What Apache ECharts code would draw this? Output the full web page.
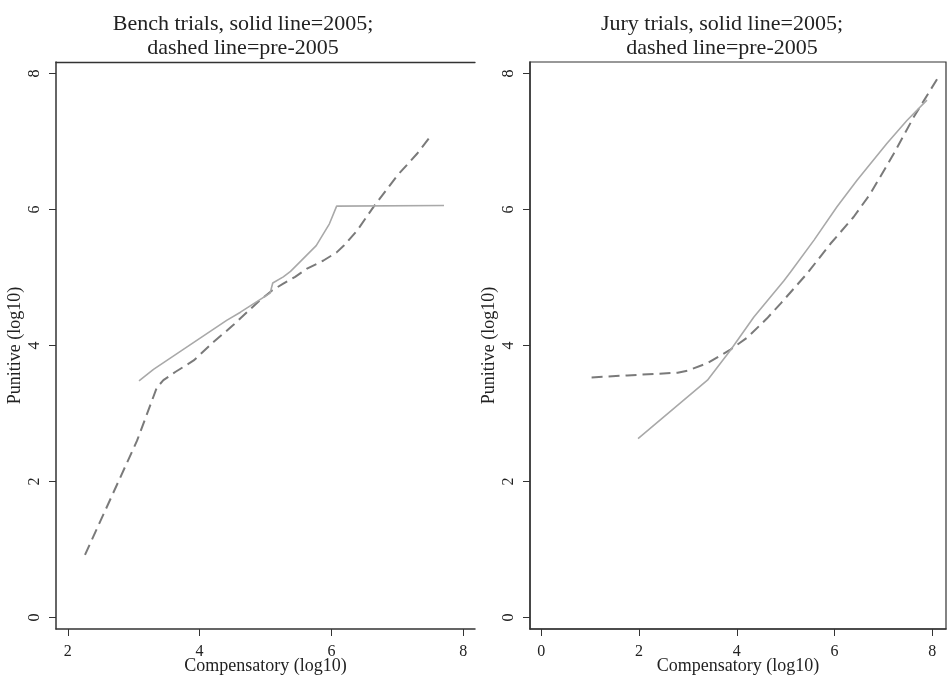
<!DOCTYPE html>
<html>
<head>
<meta charset="utf-8">
<script src="https://cdn.jsdelivr.net/npm/echarts@6/dist/echarts.min.js"></script>
<style>html,body{margin:0;padding:0;background:#fff;}#c{width:950px;height:683px;}</style>
</head>
<body>
<div id="c"></div>
<script>
// ---- data (log10 values) ----
const titles = ['Bench trials, solid line=2005;\ndashed line=pre-2005', 'Jury trials, solid line=2005;\ndashed line=pre-2005'];
const xName = 'Compensatory (log10)';
const yName = 'Punitive (log10)';
const benchXTicks = [2, 4, 6, 8];
const juryXTicks = [0, 2, 4, 6, 8];
const yTicks = [0, 2, 4, 6, 8];

const bench2005X = [3.08, 3.30, 4.41, 4.62, 5.07, 5.11, 5.27, 5.38, 5.77, 5.97, 6.08, 7.71];
const bench2005Y = [3.48, 3.65, 4.37, 4.49, 4.77, 4.92, 5.01, 5.09, 5.47, 5.79, 6.05, 6.06];
const benchPreX = [2.26, 3.05, 3.35, 3.45, 3.63, 3.91, 4.21, 4.51, 4.62, 4.92, 5.10, 5.27, 5.45, 5.63, 5.88, 6.08, 6.19, 6.39, 6.64, 7.00, 7.30, 7.53];
const benchPreY = [0.92, 2.60, 3.38, 3.49, 3.61, 3.78, 4.05, 4.30, 4.40, 4.67, 4.81, 4.91, 5.01, 5.13, 5.25, 5.37, 5.47, 5.69, 6.04, 6.50, 6.82, 7.11];

const jury2005X = [1.98, 3.40, 3.87, 4.35, 4.96, 5.10, 5.58, 6.05, 6.46, 7.07, 7.48, 7.89];
const jury2005Y = [2.63, 3.49, 3.93, 4.42, 4.95, 5.08, 5.55, 6.04, 6.43, 6.97, 7.31, 7.61];
const juryPreX = [1.03, 1.76, 2.79, 2.99, 3.40, 3.87, 4.22, 4.62, 4.90, 5.44, 5.92, 6.39, 6.73, 7.21, 7.62, 8.10];
const juryPreY = [3.53, 3.56, 3.60, 3.63, 3.74, 3.94, 4.12, 4.40, 4.62, 5.06, 5.50, 5.89, 6.23, 6.82, 7.36, 7.92];

// ---- build ----
const pairs = (xs, ys) => xs.map((x, i) => [x, ys[i]]);
const FONT = "'Liberation Serif', 'Times New Roman', serif";
const AX = '#333';
const TXT = '#222';

function xAxis(idx, min, max, ticks) {
  return {
    type: 'value', gridIndex: idx, min: min, max: max,
    name: xName, nameLocation: 'middle', nameGap: 28, nameMoveOverlap: false,
    nameTextStyle: { fontFamily: FONT, fontSize: 18, color: TXT },
    axisLine: { show: true, onZero: false, lineStyle: { color: AX, width: 1.5 } },
    axisTick: { show: true, length: 7, customValues: ticks, lineStyle: { color: AX, width: 1 } },
    axisLabel: { customValues: ticks, margin: 15, fontFamily: FONT, fontSize: 16, color: TXT },
    splitLine: { show: false }
  };
}
function topLine(idx, min, max) {
  return {
    type: 'value', gridIndex: idx, min: min, max: max, position: 'top',
    axisLine: { show: true, onZero: false, lineStyle: { color: AX, width: 1.3 } },
    axisTick: { show: false }, axisLabel: { show: false }, splitLine: { show: false }
  };
}
function yAxis(idx) {
  return {
    type: 'value', gridIndex: idx, min: -0.17, max: 8.17,
    name: yName, nameLocation: 'middle', nameGap: 32, nameRotate: 90, nameMoveOverlap: false,
    nameTextStyle: { fontFamily: FONT, fontSize: 18, color: TXT },
    axisLine: { show: true, onZero: false, lineStyle: { color: AX, width: 1.5 } },
    axisTick: { show: true, length: 7, customValues: yTicks, lineStyle: { color: AX, width: 1 } },
    axisLabel: { customValues: yTicks, rotate: 90, margin: 13, fontFamily: FONT, fontSize: 16, color: TXT },
    splitLine: { show: false }
  };
}
function solid(idx, data) {
  return { type: 'line', xAxisIndex: idx, yAxisIndex: idx, data: data, showSymbol: false, animation: false,
    lineStyle: { color: '#a9a9a9', width: 1.6 }, z: 3 };
}
function dashed(idx, data) {
  return { type: 'line', xAxisIndex: idx, yAxisIndex: idx, data: data, showSymbol: false, animation: false,
    lineStyle: { color: '#7a7a7a', width: 2, type: [11, 6] }, z: 2 };
}

const chart = echarts.init(document.getElementById('c'), null, { renderer: 'canvas' });
chart.setOption({
  animation: false,
  backgroundColor: '#fff',
  title: [
    { text: titles[0], left: 238, top: 7, textAlign: 'center',
      textStyle: { fontFamily: FONT, fontSize: 22, lineHeight: 24, fontWeight: 'normal', color: TXT } },
    { text: titles[1], left: 717, top: 7, textAlign: 'center',
      textStyle: { fontFamily: FONT, fontSize: 22, lineHeight: 24, fontWeight: 'normal', color: TXT } }
  ],
  grid: [
    { left: 56, right: 475, top: 62, bottom: 54, outerBoundsMode: 'none', containLabel: false },
    { left: 530, right: 4, top: 62, bottom: 54, outerBoundsMode: 'none', containLabel: false,
      show: true, borderColor: AX, borderWidth: 1.2, backgroundColor: 'transparent' }
  ],
  xAxis: [xAxis(0, 1.82, 8.18, benchXTicks), xAxis(1, -0.23, 8.28, juryXTicks), topLine(0, 1.82, 8.18)],
  yAxis: [yAxis(0), yAxis(1)],
  series: [
    dashed(0, pairs(benchPreX, benchPreY)),
    solid(0, pairs(bench2005X, bench2005Y)),
    dashed(1, pairs(juryPreX, juryPreY)),
    solid(1, pairs(jury2005X, jury2005Y))
  ]
});
</script>
</body>
</html>
